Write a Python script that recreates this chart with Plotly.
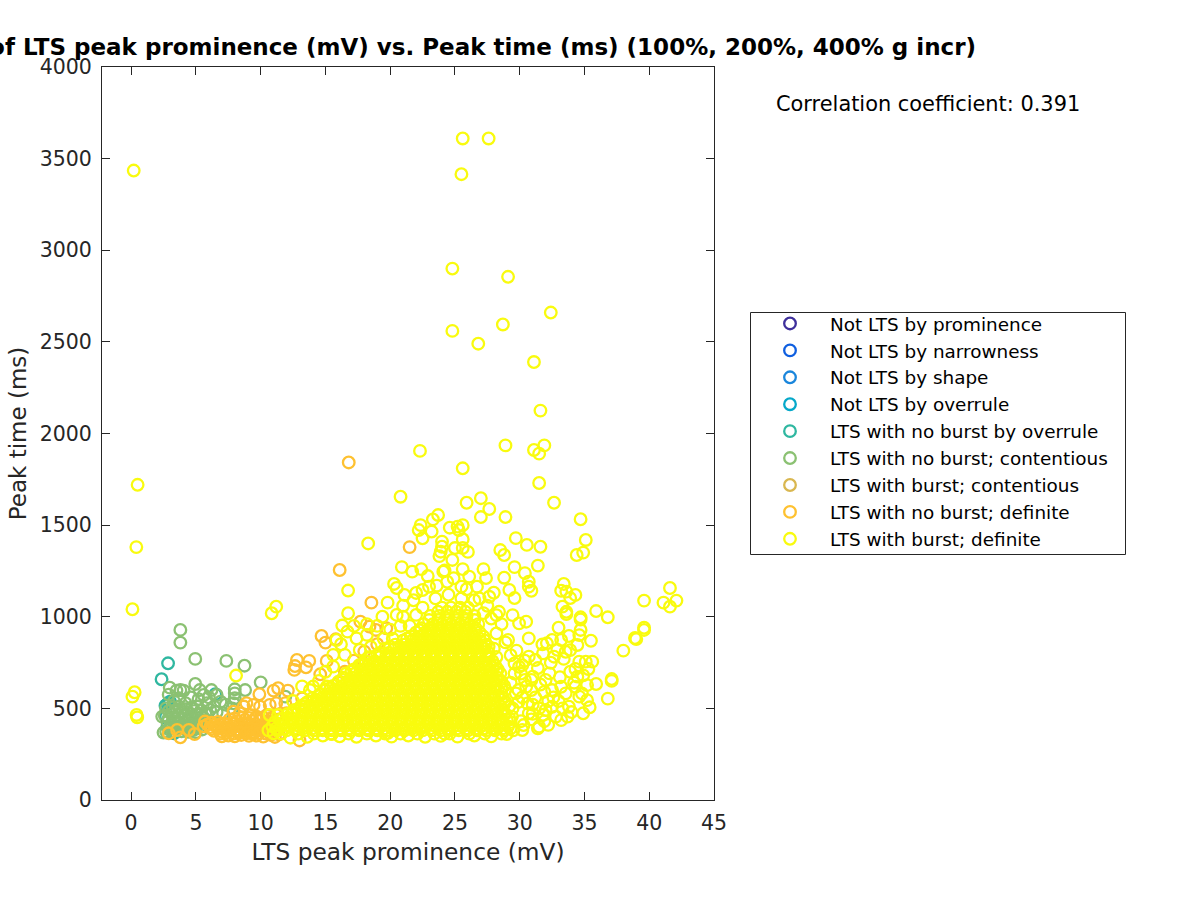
import plotly.graph_objects as go

TITLE = "of LTS peak prominence (mV) vs. Peak time (ms) (100%, 200%, 400% g incr)"
X_LABEL = "LTS peak prominence (mV)"
Y_LABEL = "Peak time (ms)"
CORR_TEXT = "Correlation coefficient: 0.391"

names = ["Not LTS by prominence", "Not LTS by narrowness", "Not LTS by shape", "Not LTS by overrule",
         "LTS with no burst by overrule", "LTS with no burst; contentious", "LTS with burst; contentious",
         "LTS with no burst; definite", "LTS with burst; definite"]
colors = ["#3e2f9b", "#0f5fe0", "#1a86dc", "#06a8c9", "#2fb7a0", "#8bc172", "#d9b750", "#fec130", "#f9fb0e"]

overrule_pts = [(2.85,746),(2.35,659),(6.5,577),(2.8,524),(2.65,515),(2.9,530),(3.0,537),(2.8,400),(4.6,382),(3.3,364),(2.7,455)]

contentious_pts = [(3.8,928),(3.8,859),(4.95,770),(7.35,759),(8.75,733),(10.0,642),(4.95,633),(2.98,613),(3.8,600),(4.05,597),
    (3.5,597),(5.3,600),(6.2,600),(8,604),(8.8,600),(8,582),(5.6,573),(6.6,573),(8,555),(7.9,528),(6.9,537),(5.85,528),
    (4.2,528),(5.1,510),(6.4,510),(7.1,473),(6.1,492),(2.4,455),(2.5,368),(11.9,564),(2.9,575),(3.3,540),(3.7,555),(4.6,560),
    (5.2,550),(6.0,560),(7.3,520),(7.8,500),(2.7,500),(3.2,505),(3.7,510),(4.2,495),(4.7,505),(5.4,490),(5.9,470),(6.6,480),
    (2.6,460),(3.1,470),(3.6,465),(4.1,460),(4.6,470),(5.1,465),(5.6,450),(2.8,425),(3.3,430),(3.8,420),(4.3,430),(4.8,425),
    (5.3,420),(3.0,395),(3.5,400),(4.0,390),(4.5,400),(5.0,395),(5.5,385),(2.7,372),(3.2,378),(3.9,375),(4.4,372),(5.0,370),
    (2.9,485),(3.4,488),(3.9,482),(4.4,478),(4.9,486),(5.4,470),(2.9,445),(3.4,448),(3.9,442),(4.4,445),(4.9,440),(5.4,435),
    (3.1,412),(3.6,415),(4.1,408),(4.6,412),(5.1,408),(2.9,385),(3.3,392),(3.8,395),(4.3,388),(4.8,382),(5.3,400)]

burst_contentious_pts = [(None, None)]

nb_definite_pts = [(16.8,1842),(21.5,1380),(16.1,1255),(18.55,1077),(14.7,895),(15,859),(15.8,877),(12.8,764),(13.75,759),(12.65,731),(13.5,724),(12.6,710),
    (15.1,759),(14.6,686),(17.7,973),(18.4,946),(18.9,928),(19.7,937),(11,597),(11.35,610),(12.1,597),(13.2,555),(9.9,577),
    (8.9,528),(9.45,519),(8.7,510),(9.95,510),(10.7,519),(11.2,528),(11.9,528),(7.9,482),(8.4,473),(9.2,464),(9.7,455),
    (10.5,464),(11.2,464),(12,473),(2.9,364),(3.55,382),(3.8,342),(4.45,382),(4.9,360),(13,325),(5.7,428),(6.2,422),(6.7,426),
    (7.2,418),(5.6,402),(6.1,398),(6.7,404),(7.3,396),(7.9,402),(8.5,398),(9.0,410),(9.6,415),(10.2,408),(10.8,412),
    (6.4,378),(7.0,372),(7.6,380),(8.2,374),(8.8,378),(9.4,372),(10,380),(10.6,374),(11.2,385),(7.5,352),(8,348),(8.5,355),
    (9.1,350),(9.7,352),(10.2,346),(10.8,355),(11.4,358),(9.3,395),(9.9,390),(10.4,395),(8.2,430),(8.8,438),(9.4,430),(10,435),
    (10.6,428),(16.5,700),(17.2,760),(18,810),(19,850),(16,640),(15.4,610),
    (5.9,412),(6.4,410),(6.9,414),(7.4,408),(7.9,416),(8.4,412),(9.0,420),(9.5,405),(10.0,402),(10.5,418),(11.0,398),
    (6.2,388),(6.7,390),(7.2,384),(7.7,392),(8.2,386),(8.7,390),(9.2,384),(9.7,386),(10.2,384),(10.8,386),
    (6.9,362),(7.4,366),(7.9,362),(8.4,368),(8.9,364),(9.4,360),(9.9,366),(10.4,362),(10.9,368),(7.0,348),(11.1,344),
    (7.6,440),(8.0,445),(8.6,450),(9.1,448),(9.6,445),(10.2,450),(10.8,445),(11.4,440)]

burst_scatter_pts = [(0.2,3435),(25.6,3610),(27.6,3610),(25.5,3415),(24.8,2900),(29.1,2855),(28.7,2595),(32.4,2660),(24.8,2560),
    (26.8,2490),(31.1,2390),(31.6,2125),(22.3,1905),(28.9,1935),(31.9,1935),(31.1,1910),(31.5,1890),(25.6,1810),(31.5,1730),
    (0.5,1720),(0.4,1380),(18.3,1400),(0.1,1041),(0.27,588),(0.1,564),(0.42,464),(0.47,451),(8.1,679),(11.2,1055),(10.85,1019),
    (20.8,1655),(25.9,1622),(27,1647),(27.65,1588),(27,1544),(28.9,1544),(32.65,1622),(34.7,1532),(23.7,1555),(23.3,1531),
    (22.35,1500),(22.2,1473),(23.2,1465),(22.5,1428),(24.6,1486),(25.2,1492),(25.6,1500),(25.3,1473),(25.6,1423),(24,1410),
    (24,1382),(23.9,1355),(23.8,1331),(25,1375),(25.6,1375),(26,1354),(24.8,1310),(29.7,1429),(30.55,1392),(31.6,1382),
    (28.5,1364),(28.8,1337),(35.1,1419),(34.9,1350),(34.4,1337),(31.4,1279),(29.6,1271),(30.4,1238),(20.9,1271),(21.7,1246),
    (22.4,1260),(22.9,1222),(24.2,1252),(24.1,1246),(25.6,1260),(26.1,1219),(27.2,1260),(27.4,1211),(28.8,1213),(30.7,1191),
    (30.7,1164),(30.9,1142),(33.4,1179),(33.2,1142),(33.6,1137),(34.3,1119),(33.9,1102),(20.3,1179),(20.5,1157),(21.1,1119),
    (22.5,1146),(23,1164),(24.4,1191),(25.5,1164),(26.7,1164),(28,1131),(27.65,1109),(29.2,1146),(29.6,1102),(19.8,1077),
    (33.3,1055),(33.6,1027),(33.6,1015),(39.6,1088),(41.6,1157),(41.1,1077),(41.6,1055),(42.1,1088),(35.9,1031),(36.8,997),
    (34.7,997),(34.7,985),(33,940),(34.6,900),(34.7,928),(35.5,869),(39.6,940),(39.6,928),(38.9,884),(39,878),(38,815),
    (37.1,660),(37.1,650),(36.8,553),(35.9,633),(34.9,473),(35.4,506),(35.6,755),(35.1,755),(35.3,715),(34.6,755),(34.3,715),
    (34.45,673),(31.75,849),(32.1,855),(32.5,873),(33.2,873),(33.8,895),(34.45,846),(33.55,809),(33.9,818),(32.65,782),
    (32.4,749),(31.2,764),(30.7,782),(29.75,815),(30.7,882),(30.5,973),(29.95,964),(29.45,1009),(28.4,1027),(28.2,1009),
    (29.1,873),(28.2,909),(29.95,727),(30.2,736),(31,673),(32.3,691),(32,655),(30.9,655),(32.5,600),(33.2,618),(33.55,582),
    (34.3,618),(34.8,582),(35.2,627),(34.6,564),(35.2,545),(33.8,509),(33.7,455),(33.2,436),(31.5,400),(31.4,391),(30.3,409),
    (30.2,382),(29.3,391),(30.7,473),(32,491),(32.5,509),(30.6,527),(31.5,500),(29.45,500),(29.7,582),(30.5,618),(31.2,560),
    (33,540),(34,480),(32.8,455),(31.9,430),(30.9,440),(16.75,1143),(16.75,1019),(16.3,952),(16.7,919),(17.4,882),(18.2,901),
    (15.85,873),(16.5,792),(15.6,792),(15.6,728),(17.65,819),(14.05,619),(13.8,600),(10.7,464),(11.35,464),(11,364),(12.4,473),
    (13.4,510),(14.3,546),(15.1,619),(19,950),(20,930),(21,1000),(19.5,880),(21.5,950),(22,1010),(22.5,1050),(23.5,1100),
    (24.5,1120),(25.5,1100),(26.5,1090),(27.5,1060),(21,1060),(20.5,1010),(22,1130),(18.5,835),(19.2,800),(17.8,740),
    (28.9,860),(29.3,790),(29.6,745),(30.1,690),(30.4,655),(29.3,640),(29.9,600),(30.2,560),(30.9,600),(31.6,630),(31.9,590),
    (32.6,560),(33.3,500),(32.2,540),(31,520),(29.9,535),(29.4,455),(30.1,430),(31,470),(31.8,465),(32.2,410),(29.6,690),
    (30.4,760),(31.4,720),(31.8,800),(32.9,820),(33.4,770),(33.9,700),(33.1,670),(34.2,640),(34.9,680),(28.6,960),(27.8,990),
    (27.2,1020),(26.9,1100),(25.9,1150),(24.9,1210),(23.6,1170),(21.8,1090),(20.8,950),(20.2,880),(19.4,1000),(18.2,960),
    (17.2,950),(16.2,850),(15.0,700),(14.5,650),(13.2,620),(12.5,540),
    (13.6,345),(14.8,352),(16.1,348),(17.4,345),(18.9,352),(20.1,346),(21.4,352),(22.7,345),(23.9,350),(25.2,346),(26.5,352),
    (27.8,347),(29.0,360),(12.3,340),(15.5,360),(19.8,365),(24.2,362)]

dense_row_y = [362, 380, 402, 425, 447, 470, 491, 512, 534, 556, 579, 602, 623, 645, 667, 690, 712, 735, 757, 780, 803, 826, 848, 870, 892, 915, 937, 960, 982, 1005, 1027, 1050,
               391, 436, 480, 523, 567, 612, 656, 701, 746, 791, 837, 881, 926]
dense_row_x = [
    [11.6,12.9,14.1,15.4,16.8,18.2,19.6,20.8,22.1,23.4,24.6,26.1,27.3,28.6],
    [10.6,11.3,12.0,12.7,13.4,14.1,14.8,15.5,16.2,16.9,17.6,18.3,19.0,19.7,20.4,21.1,21.8,22.5,23.2,23.9,24.6,25.3,26.0,26.7,27.4,28.1,28.8,29.5],
    [10.9,11.6,12.3,13.0,13.7,14.4,15.1,15.8,16.5,17.2,17.9,18.6,19.3,20.0,20.7,21.4,22.1,22.8,23.5,24.2,24.9,25.6,26.3,27.0,27.7,28.4,29.1],
    [11.1,11.8,12.5,13.2,13.9,14.6,15.3,16.0,16.7,17.4,18.1,18.8,19.5,20.2,20.9,21.6,22.3,23.0,23.7,24.4,25.1,25.8,26.5,27.2,27.9,28.6,29.3],
    [11.7,12.4,13.1,13.8,14.5,15.2,15.9,16.6,17.3,18.0,18.7,19.4,20.1,20.8,21.5,22.2,22.9,23.6,24.3,25.0,25.7,26.4,27.1,27.8,28.5,29.2],
    [12.1,12.8,13.5,14.2,14.9,15.6,16.3,17.0,17.7,18.4,19.1,19.8,20.5,21.2,21.9,22.6,23.3,24.0,24.7,25.4,26.1,26.8,27.5,28.2,28.9],
    [12.6,13.3,14.0,14.7,15.4,16.1,16.8,17.5,18.2,18.9,19.6,20.3,21.0,21.7,22.4,23.1,23.8,24.5,25.2,25.9,26.6,27.3,28.0,28.7],
    [13.1,13.8,14.5,15.2,15.9,16.6,17.3,18.0,18.7,19.4,20.1,20.8,21.5,22.2,22.9,23.6,24.3,25.0,25.7,26.4,27.1,27.8,28.5,29.2],
    [13.6,14.3,15.0,15.7,16.4,17.1,17.8,18.5,19.2,19.9,20.6,21.3,22.0,22.7,23.4,24.1,24.8,25.5,26.2,26.9,27.6,28.3,28.9],
    [14.0,14.7,15.4,16.1,16.8,17.5,18.2,18.9,19.6,20.3,21.0,21.7,22.4,23.1,23.8,24.5,25.2,25.9,26.6,27.3,28.0,28.7],
    [14.6,15.3,16.0,16.7,17.4,18.1,18.8,19.5,20.2,20.9,21.6,22.3,23.0,23.7,24.4,25.1,25.8,26.5,27.2,27.9,28.6],
    [15.0,15.7,16.4,17.1,17.8,18.5,19.2,19.9,20.6,21.3,22.0,22.7,23.4,24.1,24.8,25.5,26.2,26.9,27.6,28.3,28.9],
    [15.6,16.3,17.0,17.7,18.4,19.1,19.8,20.5,21.2,21.9,22.6,23.3,24.0,24.7,25.4,26.1,26.8,27.5,28.2,28.8],
    [16.0,16.7,17.4,18.1,18.8,19.5,20.2,20.9,21.6,22.3,23.0,23.7,24.4,25.1,25.8,26.5,27.2,27.9,28.6],
    [16.4,17.1,17.8,18.5,19.2,19.9,20.6,21.3,22.0,22.7,23.4,24.1,24.8,25.5,26.2,26.9,27.6,28.3],
    [16.6,17.3,18.0,18.7,19.4,20.1,20.8,21.5,22.2,22.9,23.6,24.3,25.0,25.7,26.4,27.1,27.8,28.5],
    [17.2,17.9,18.6,19.3,20.0,20.7,21.4,22.1,22.8,23.5,24.2,24.9,25.6,26.3,27.0,27.7,28.3],
    [17.6,18.3,19.0,19.7,20.4,21.1,21.8,22.5,23.2,23.9,24.6,25.3,26.0,26.7,27.4,28.1],
    [18.1,18.8,19.5,20.2,20.9,21.6,22.3,23.0,23.7,24.4,25.1,25.8,26.5,27.2,27.9],
    [18.5,19.2,19.9,20.6,21.3,22.0,22.7,23.4,24.1,24.8,25.5,26.2,26.9,27.6,28.2],
    [19.2,19.9,20.6,21.3,22.0,22.7,23.4,24.1,24.8,25.5,26.2,26.9,27.6],
    [19.6,20.3,21.0,21.7,22.4,23.1,23.8,24.5,25.2,25.9,26.6,27.3,28.0],
    [20.4,21.1,21.8,22.5,23.2,23.9,24.6,25.3,26.0,26.7,27.4],
    [21.0,21.7,22.4,23.1,23.8,24.5,25.2,25.9,26.6,27.3],
    [21.6,22.3,23.0,23.7,24.4,25.1,25.8,26.5,27.2],
    [22.0,22.7,23.4,24.1,24.8,25.5,26.2,26.9],
    [22.4,23.1,23.8,24.5,25.2,25.9,26.6],
    [22.6,23.3,24.0,24.7,25.4,26.1,26.8],
    [23.0,23.7,24.4,25.1,25.8,26.5],
    [23.1,23.8,24.5,25.2,25.9,26.5],
    [23.7,24.4,25.1,25.8],
    [24.0,24.7,25.4,26.0],
    [11.2,11.9,12.6,13.3,14.0,14.7,15.4,16.1,16.8,17.5,18.2,18.9,19.6,20.3,21.0,21.7,22.4,23.1,23.8,24.5,25.2,25.9,26.6,27.3,28.0,28.7],
    [11.5,12.2,12.9,13.6,14.3,15.0,15.7,16.4,17.1,17.8,18.5,19.2,19.9,20.6,21.3,22.0,22.7,23.4,24.1,24.8,25.5,26.2,26.9,27.6,28.3,29.0],
    [12.5,13.2,13.9,14.6,15.3,16.0,16.7,17.4,18.1,18.8,19.5,20.2,20.9,21.6,22.3,23.0,23.7,24.4,25.1,25.8,26.5,27.2,27.9,28.6],
    [13.4,14.1,14.8,15.5,16.2,16.9,17.6,18.3,19.0,19.7,20.4,21.1,21.8,22.5,23.2,23.9,24.6,25.3,26.0,26.7,27.4,28.1,28.8],
    [14.4,15.1,15.8,16.5,17.2,17.9,18.6,19.3,20.0,20.7,21.4,22.1,22.8,23.5,24.2,24.9,25.6,26.3,27.0,27.7,28.4],
    [15.4,16.1,16.8,17.5,18.2,18.9,19.6,20.3,21.0,21.7,22.4,23.1,23.8,24.5,25.2,25.9,26.6,27.3,28.0,28.6],
    [16.3,17.0,17.7,18.4,19.1,19.8,20.5,21.2,21.9,22.6,23.3,24.0,24.7,25.4,26.1,26.8,27.5,28.2],
    [17.0,17.7,18.4,19.1,19.8,20.5,21.2,21.9,22.6,23.3,24.0,24.7,25.4,26.1,26.8,27.5,28.2],
    [17.9,18.6,19.3,20.0,20.7,21.4,22.1,22.8,23.5,24.2,24.9,25.6,26.3,27.0,27.7],
    [19.0,19.7,20.4,21.1,21.8,22.5,23.2,23.9,24.6,25.3,26.0,26.7,27.4],
    [20.0,20.7,21.4,22.1,22.8,23.5,24.2,24.9,25.6,26.3,27.0,27.6],
    [21.3,22.0,22.7,23.4,24.1,24.8,25.5,26.2,26.9],
    [22.3,23.0,23.7,24.4,25.1,25.8,26.5],
]

bd_x = [p[0] for p in burst_scatter_pts] + [x for xs in dense_row_x for x in xs]
bd_y = [p[1] for p in burst_scatter_pts] + [y for y, xs in zip(dense_row_y, dense_row_x) for _ in xs]

series = [([None], [None])] * 4 + [
    ([p[0] for p in overrule_pts], [p[1] for p in overrule_pts]),
    ([p[0] for p in contentious_pts], [p[1] for p in contentious_pts]),
    ([p[0] for p in burst_contentious_pts], [p[1] for p in burst_contentious_pts]),
    ([p[0] for p in nb_definite_pts], [p[1] for p in nb_definite_pts]),
    (bd_x, bd_y),
]

fig = go.Figure()
for i, (name, color, (xs, ys)) in enumerate(zip(names, colors, series)):
    fig.add_trace(go.Scatter(x=xs, y=ys, mode="markers", name=name, legendgroup=name,
                             marker=dict(symbol="circle-open", size=11.6, color=color, line=dict(width=2.3, color=color))))

axis_common = dict(showgrid=False, zeroline=False, showline=True, mirror="ticks", ticks="inside", ticklen=8,
                   tickwidth=1, linecolor="#262626", tickcolor="#262626", linewidth=1,
                   tickfont=dict(family="DejaVu Sans", size=20.5, color="#262626"))
fig.update_layout(
    width=1200, height=900, autosize=False, paper_bgcolor="white", plot_bgcolor="white",
    margin=dict(l=102, r=486, t=67, b=100, autoexpand=False),
    font=dict(family="DejaVu Sans", color="#262626"),
    title=dict(text=TITLE, x=976 / 1200, xanchor="right", xref="container", y=1 - 47 / 900,
               yanchor="middle", font=dict(family="DejaVu Sans", size=23, color="black", weight="bold")),
    xaxis=dict(range=[-2.25, 45], tickvals=list(range(0, 50, 5)), ticklabelstandoff=4,
               title=dict(text=X_LABEL, font=dict(size=23.3, color="#262626"), standoff=10), **axis_common),
    yaxis=dict(range=[0, 4000], tickvals=list(range(0, 4500, 500)), ticklabelstandoff=5,
               title=dict(text=Y_LABEL, font=dict(size=23, color="#262626"), standoff=6), **axis_common),
    legend=dict(x=750 / 1200, y=1 - 305 / 900, xref="container", yref="container", xanchor="left", yanchor="top",
                bgcolor="rgba(0,0,0,0)", borderwidth=0,
                font=dict(family="DejaVu Sans", size=18.4, color="black"),
                itemwidth=70, tracegroupgap=0,
                itemclick=False, itemdoubleclick=False),
    showlegend=True,
    shapes=[dict(type="rect", xref="paper", yref="paper", x0=(750.5 - 102) / 612, x1=(1125.5 - 102) / 612,
                 y0=1 - (312.5 - 67) / 733, y1=1 - (554.5 - 67) / 733, line=dict(color="#262626", width=1), fillcolor="rgba(0,0,0,0)")],
    annotations=[dict(text=CORR_TEXT, xref="paper", yref="paper", x=(774 - 102) / 612, y=1 - (104 - 67) / 733,
                      xanchor="left", yanchor="middle", showarrow=False,
                      font=dict(family="DejaVu Sans", size=20.9, color="black"))],
)
fig.write_html("out.html", config={"displayModeBar": False},
               post_script="document.body.style.margin='0';document.documentElement.style.overflow='hidden';")
